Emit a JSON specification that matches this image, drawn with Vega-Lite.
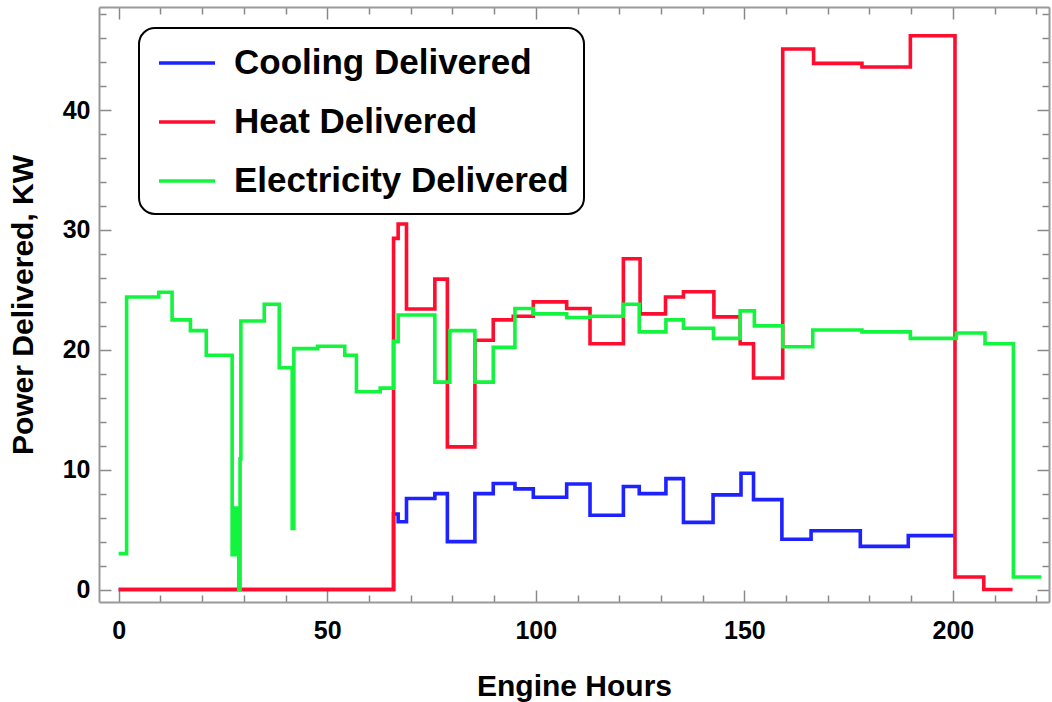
{
  "$schema": "https://vega.github.io/schema/vega-lite/v6.json",
  "width": 950,
  "height": 595,
  "autosize": {"type": "none"},
  "padding": {"left": 99, "top": 7, "right": 3, "bottom": 100},
  "background": "white",
  "config": {
    "view": {"stroke": null},
    "font": "Liberation Sans",
    "legend": {"strokeWidth": 2}
  },
  "data": {
    "values": [
      {"s": "Cooling Delivered", "h": 0, "v": 0},
      {"s": "Cooling Delivered", "h": 65.9, "v": 6.3},
      {"s": "Cooling Delivered", "h": 67, "v": 5.65},
      {"s": "Cooling Delivered", "h": 69, "v": 7.6},
      {"s": "Cooling Delivered", "h": 75.8, "v": 8.0},
      {"s": "Cooling Delivered", "h": 78.8, "v": 4.0},
      {"s": "Cooling Delivered", "h": 85.4, "v": 8.0},
      {"s": "Cooling Delivered", "h": 89.8, "v": 8.85},
      {"s": "Cooling Delivered", "h": 95, "v": 8.4},
      {"s": "Cooling Delivered", "h": 99.4, "v": 7.7},
      {"s": "Cooling Delivered", "h": 107.4, "v": 8.8},
      {"s": "Cooling Delivered", "h": 113, "v": 6.2},
      {"s": "Cooling Delivered", "h": 121, "v": 8.6},
      {"s": "Cooling Delivered", "h": 124.8, "v": 8.0},
      {"s": "Cooling Delivered", "h": 131.2, "v": 9.25},
      {"s": "Cooling Delivered", "h": 135.4, "v": 5.6},
      {"s": "Cooling Delivered", "h": 142.5, "v": 7.9},
      {"s": "Cooling Delivered", "h": 149.2, "v": 9.7},
      {"s": "Cooling Delivered", "h": 152.2, "v": 7.5},
      {"s": "Cooling Delivered", "h": 159, "v": 4.2},
      {"s": "Cooling Delivered", "h": 166, "v": 4.9},
      {"s": "Cooling Delivered", "h": 177.8, "v": 3.6},
      {"s": "Cooling Delivered", "h": 189.3, "v": 4.5},
      {"s": "Cooling Delivered", "h": 200.2, "v": 4.5},
      {"s": "Heat Delivered", "h": 0, "v": 0},
      {"s": "Heat Delivered", "h": 65.9, "v": 29.3},
      {"s": "Heat Delivered", "h": 67, "v": 30.5},
      {"s": "Heat Delivered", "h": 69, "v": 23.4},
      {"s": "Heat Delivered", "h": 75.8, "v": 25.9},
      {"s": "Heat Delivered", "h": 78.8, "v": 11.9},
      {"s": "Heat Delivered", "h": 85.4, "v": 20.8},
      {"s": "Heat Delivered", "h": 89.8, "v": 22.5},
      {"s": "Heat Delivered", "h": 94.6, "v": 22.8},
      {"s": "Heat Delivered", "h": 99.4, "v": 24.0},
      {"s": "Heat Delivered", "h": 107.4, "v": 23.45},
      {"s": "Heat Delivered", "h": 113, "v": 20.5},
      {"s": "Heat Delivered", "h": 121, "v": 27.6},
      {"s": "Heat Delivered", "h": 125, "v": 23.0},
      {"s": "Heat Delivered", "h": 131.1, "v": 24.4},
      {"s": "Heat Delivered", "h": 135.4, "v": 24.85},
      {"s": "Heat Delivered", "h": 142.7, "v": 22.75},
      {"s": "Heat Delivered", "h": 149, "v": 20.5},
      {"s": "Heat Delivered", "h": 152.2, "v": 17.65},
      {"s": "Heat Delivered", "h": 159.2, "v": 45.1},
      {"s": "Heat Delivered", "h": 166.6, "v": 43.9},
      {"s": "Heat Delivered", "h": 178.2, "v": 43.6},
      {"s": "Heat Delivered", "h": 189.8, "v": 46.2},
      {"s": "Heat Delivered", "h": 200.5, "v": 1.05},
      {"s": "Heat Delivered", "h": 207.4, "v": 0},
      {"s": "Heat Delivered", "h": 214.3, "v": 0},
      {"s": "Electricity Delivered", "h": 0, "v": 3.0},
      {"s": "Electricity Delivered", "h": 1.9, "v": 24.4},
      {"s": "Electricity Delivered", "h": 9.6, "v": 24.8},
      {"s": "Electricity Delivered", "h": 12.8, "v": 22.5},
      {"s": "Electricity Delivered", "h": 17.2, "v": 21.6},
      {"s": "Electricity Delivered", "h": 21, "v": 19.55},
      {"s": "Electricity Delivered", "h": 27.2, "v": 2.9},
      {"s": "Electricity Delivered", "h": 28, "v": 6.8},
      {"s": "Electricity Delivered", "h": 28.8, "v": 0},
      {"s": "Electricity Delivered", "h": 29.1, "v": 10.9},
      {"s": "Electricity Delivered", "h": 29.3, "v": 22.4},
      {"s": "Electricity Delivered", "h": 34.9, "v": 23.8},
      {"s": "Electricity Delivered", "h": 38.5, "v": 18.5},
      {"s": "Electricity Delivered", "h": 41.6, "v": 5.1},
      {"s": "Electricity Delivered", "h": 42, "v": 20.1},
      {"s": "Electricity Delivered", "h": 47.7, "v": 20.3},
      {"s": "Electricity Delivered", "h": 54.2, "v": 19.55},
      {"s": "Electricity Delivered", "h": 57, "v": 16.5},
      {"s": "Electricity Delivered", "h": 62.7, "v": 16.8},
      {"s": "Electricity Delivered", "h": 65.9, "v": 20.7},
      {"s": "Electricity Delivered", "h": 67, "v": 22.9},
      {"s": "Electricity Delivered", "h": 75.8, "v": 17.3},
      {"s": "Electricity Delivered", "h": 79.4, "v": 21.6},
      {"s": "Electricity Delivered", "h": 85.4, "v": 17.3},
      {"s": "Electricity Delivered", "h": 89.8, "v": 20.2},
      {"s": "Electricity Delivered", "h": 95, "v": 23.45},
      {"s": "Electricity Delivered", "h": 99.4, "v": 23.0},
      {"s": "Electricity Delivered", "h": 107.4, "v": 22.7},
      {"s": "Electricity Delivered", "h": 113, "v": 22.8},
      {"s": "Electricity Delivered", "h": 121, "v": 23.8},
      {"s": "Electricity Delivered", "h": 124.8, "v": 21.5},
      {"s": "Electricity Delivered", "h": 131.2, "v": 22.5},
      {"s": "Electricity Delivered", "h": 135.4, "v": 21.8},
      {"s": "Electricity Delivered", "h": 142.6, "v": 20.95},
      {"s": "Electricity Delivered", "h": 149, "v": 23.25},
      {"s": "Electricity Delivered", "h": 152.4, "v": 22.0},
      {"s": "Electricity Delivered", "h": 159.2, "v": 20.25},
      {"s": "Electricity Delivered", "h": 166.4, "v": 21.65},
      {"s": "Electricity Delivered", "h": 178.2, "v": 21.5},
      {"s": "Electricity Delivered", "h": 189.8, "v": 20.95},
      {"s": "Electricity Delivered", "h": 200.8, "v": 21.4},
      {"s": "Electricity Delivered", "h": 207.7, "v": 20.5},
      {"s": "Electricity Delivered", "h": 214.5, "v": 1.05},
      {"s": "Electricity Delivered", "h": 221.2, "v": 1.05}
    ]
  },
  "layer": [
    {
      "mark": {"type": "line", "interpolate": "step-after", "strokeWidth": 3.6, "clip": true, "strokeJoin": "miter"},
      "encoding": {
        "x": {
          "field": "h", "type": "quantitative",
          "scale": {"domain": [-4.72, 223.04], "nice": false, "zero": false},
          "axis": {
            "orient": "bottom",
            "values": [0,10,20,30,40,50,60,70,80,90,100,110,120,130,140,150,160,170,180,190,200,210,220],
            "labelExpr": "datum.value % 50 === 0 ? datum.label : ''",
            "tickSize": {"condition": {"test": "datum.value % 50 === 0", "value": -12}, "value": -7},
            "tickColor": "#888", "tickWidth": 1.5,
            "domainColor": "#999", "domainWidth": 2,
            "labelFont": "Liberation Sans", "labelFontWeight": "bold", "labelFontSize": 25, "labelColor": "black",
            "labelPadding": 28, "labelFlush": false, "labelOverlap": false,
            "grid": false,
            "title": "Engine Hours", "titleFont": "Liberation Sans", "titleFontSize": 30, "titleFontWeight": "bold",
            "titleColor": "black", "titleBaseline": "middle", "titleY": 84
          }
        },
        "y": {
          "field": "v", "type": "quantitative",
          "scale": {"domain": [-1.04, 48.6], "nice": false, "zero": false},
          "axis": {
            "orient": "left",
            "values": [0,2,4,6,8,10,12,14,16,18,20,22,24,26,28,30,32,34,36,38,40,42,44,46,48],
            "labelExpr": "datum.value % 10 === 0 ? datum.label : ''",
            "tickSize": {"condition": {"test": "datum.value % 10 === 0", "value": -12}, "value": -7},
            "tickColor": "#888", "tickWidth": 1.5,
            "domainColor": "#999", "domainWidth": 2,
            "labelFont": "Liberation Sans", "labelFontWeight": "bold", "labelFontSize": 25, "labelColor": "black",
            "labelPadding": 21, "labelFlush": false, "labelOverlap": false,
            "grid": false,
            "title": "Power Delivered, KW", "titleFont": "Liberation Sans", "titleFontSize": 30, "titleFontWeight": "bold",
            "titleColor": "black", "titleBaseline": "middle", "titleX": -76
          }
        },
        "color": {
          "field": "s", "type": "nominal",
          "scale": {"domain": ["Cooling Delivered", "Heat Delivered", "Electricity Delivered"], "range": ["#1e22ff", "#ff0d2e", "#12f43e"]},
          "legend": {
            "title": " ", "titleFontSize": 1, "titlePadding": 4,
            "orient": "none", "legendX": 40, "legendY": 21, "direction": "vertical",
            "symbolType": "stroke", "symbolSize": 3136, "symbolStrokeWidth": 3.5, "symbolOffset": 3,
            "labelFont": "Liberation Sans", "labelFontSize": 35, "labelFontWeight": "bold", "labelColor": "black",
            "labelOffset": 17, "labelLimit": 600,
            "strokeColor": "black", "fillColor": "white", "cornerRadius": 16,
            "padding": 15, "rowPadding": 24, "clipHeight": 30
          }
        }
      }
    },
    {
      "mark": {"type": "line", "opacity": 0},
      "encoding": {
        "x": {
          "field": "h", "type": "quantitative",
          "axis": {
            "orient": "top",
            "values": [0,10,20,30,40,50,60,70,80,90,100,110,120,130,140,150,160,170,180,190,200,210,220],
            "labels": false, "title": null, "grid": false,
            "tickSize": {"condition": {"test": "datum.value % 50 === 0", "value": -12}, "value": -7},
            "tickColor": "#888", "tickWidth": 1.5,
            "domainColor": "#999", "domainWidth": 2
          }
        },
        "y": {
          "field": "v", "type": "quantitative",
          "axis": {
            "orient": "right",
            "values": [0,2,4,6,8,10,12,14,16,18,20,22,24,26,28,30,32,34,36,38,40,42,44,46,48],
            "labels": false, "title": null, "grid": false,
            "tickSize": {"condition": {"test": "datum.value % 10 === 0", "value": -12}, "value": -7},
            "tickColor": "#888", "tickWidth": 1.5,
            "domainColor": "#999", "domainWidth": 2
          }
        }
      }
    }
  ],
  "resolve": {"axis": {"x": "independent", "y": "independent"}}
}
